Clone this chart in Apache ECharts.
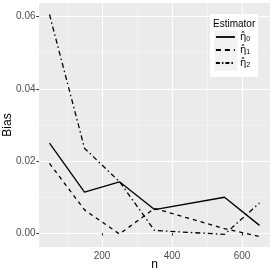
<!DOCTYPE html>
<html><head><meta charset="utf-8">
<script src="https://cdn.jsdelivr.net/npm/echarts@6/dist/echarts.min.js"></script>
<style>html,body{margin:0;padding:0;background:#fff}#c{width:273px;height:273px}</style>
</head><body><div id="c"></div>
<script>
const nValues = [50, 150, 250, 350, 550, 650];
const eta0 = [0.0249, 0.0113, 0.0142, 0.0065, 0.0099, 0.0021];
const eta1 = [0.0193, 0.0064, -0.0003, 0.0068, 0.0012, -0.0010];
const eta2 = [0.0606, 0.0235, 0.0142, 0.0007, -0.0004, 0.0083];
const xMajor = [200, 400, 600];
const xMinor = [100, 300, 500];
const yMajor = [0, 0.02, 0.04, 0.06];
const yMinor = [0.01, 0.03, 0.05];
const seriesNames = ['eta0', 'eta1', 'eta2'];
const seriesSubs = ['0', '1', '2'];
const legendTitle = 'Estimator';

const FONT = 'Liberation Sans, Arial, sans-serif';
const chart = echarts.init(document.getElementById('c'), null, {renderer: 'canvas'});
const pair = (arr) => nValues.map((n, i) => [n, arr[i]]);
const dashes = ['solid', [4, 4], [5, 3, 1.5, 3]];
const legendDashes = ['solid', [5, 4], [4, 2, 1.5, 2]];
const allData = [eta0, eta1, eta2];

const XMIN = 20, XMAX = 680, YMIN = -0.0039, YMAX = 0.0638;

chart.setOption({
  animation: false,
  textStyle: {fontFamily: FONT},
  grid: {show: true, left: 39, right: 3, top: 3, bottom: 26, backgroundColor: '#EBEBEB', borderWidth: 0,
    containLabel: false, outerBoundsMode: 'none'},
  title: {text: legendTitle, left: 213, top: 19, padding: 0, textStyle: {fontSize: 10, fontWeight: 'normal', color: '#000', fontFamily: FONT}, z: 30},
  legend: {
    orient: 'vertical', left: 215, top: 32, padding: 0, itemGap: 2,
    itemWidth: 19, itemHeight: 12, z: 30,
    data: seriesNames.map((name, i) => ({name: name, lineStyle: {type: legendDashes[i]}})),
    itemStyle: {opacity: 0},
    lineStyle: {width: 1.8},
    formatter: (name) => '{e|\u03B7\u0302}{s|' + seriesSubs[seriesNames.indexOf(name)] + '}',
    textStyle: {
      color: '#000',
      rich: {
        e: {fontSize: 10, fontFamily: 'DejaVu Sans', color: '#000'},
        s: {fontSize: 7, fontFamily: FONT, color: '#000', verticalAlign: 'bottom', padding: [5, 0, 0, 0]}
      }
    }
  },
  graphic: [
    {type: 'rect', z: 25, shape: {x: 210, y: 14, width: 48, height: 63}, style: {fill: '#fff'}},
    {type: 'rect', z: 26, shape: {x: 214.5, y: 31, width: 23, height: 40}, style: {fill: '#F2F2F2'}}
  ],
  xAxis: [
    {
      type: 'value', min: XMIN, max: XMAX, gridIndex: 0,
      name: 'n', nameLocation: 'middle', nameGap: 12, nameMoveOverlap: false,
      nameTextStyle: {fontSize: 12, color: '#000', fontFamily: FONT},
      axisLine: {show: false},
      axisTick: {show: true, length: 2.7, customValues: xMajor, lineStyle: {color: '#333', width: 1}},
      axisLabel: {customValues: xMajor, margin: 4, fontSize: 10, color: '#4D4D4D', fontFamily: FONT},
      splitLine: {show: true, lineStyle: {color: '#fff', width: 1.1}}
    },
    {
      type: 'value', min: XMIN, max: XMAX, gridIndex: 0, position: 'top',
      axisLine: {show: false},
      axisTick: {show: false, customValues: xMinor},
      axisLabel: {show: false, customValues: xMinor},
      splitLine: {show: true, lineStyle: {color: '#F7F7F7', width: 0.6}}
    }
  ],
  yAxis: [
    {
      type: 'value', min: YMIN, max: YMAX, gridIndex: 0,
      name: 'Bias', nameLocation: 'middle', nameGap: 25, nameRotate: 90, nameMoveOverlap: false,
      nameTextStyle: {fontSize: 12, color: '#000', fontFamily: FONT},
      axisLine: {show: false},
      axisTick: {show: true, length: 2.7, customValues: yMajor, lineStyle: {color: '#333', width: 1}},
      axisLabel: {customValues: yMajor, margin: 3.5, fontSize: 10, color: '#4D4D4D', fontFamily: FONT,
        formatter: (v) => v.toFixed(2)},
      splitLine: {show: true, lineStyle: {color: '#fff', width: 1.1}}
    },
    {
      type: 'value', min: YMIN, max: YMAX, gridIndex: 0, position: 'right',
      axisLine: {show: false},
      axisTick: {show: false, customValues: yMinor},
      axisLabel: {show: false, customValues: yMinor},
      splitLine: {show: true, lineStyle: {color: '#F7F7F7', width: 0.6}}
    }
  ],
  series: seriesNames.map((name, i) => ({
    name: name, type: 'line', xAxisIndex: 0, yAxisIndex: 0,
    data: pair(allData[i]), showSymbol: false, symbol: 'none',
    lineStyle: {color: '#000', width: 1.3, type: dashes[i]},
    itemStyle: {color: '#000'}, z: 5
  }))
});
</script></body></html>
